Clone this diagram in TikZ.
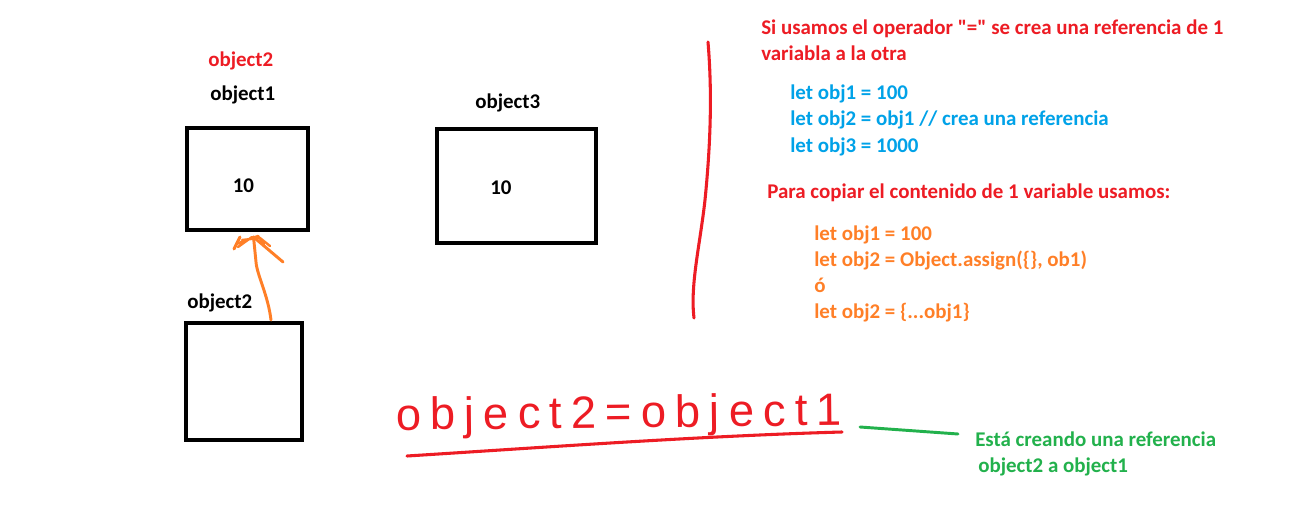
\documentclass[tikz,border=0pt]{standalone}
\usepackage{fontspec}
\setmainfont{Carlito}[Ligatures=TeXOff]
\newfontfamily\handfont[LetterSpace=20]{Liberation Sans}
\usetikzlibrary{calc}
\definecolor{pred}{RGB}{237,28,36}
\definecolor{pblue}{RGB}{0,162,232}
\definecolor{porange}{RGB}{255,127,39}
\definecolor{pgreen}{RGB}{34,177,76}
\tikzset{
  objbox/.style={draw=black, line width=3pt, minimum width=#1, inner sep=0pt},
  lbl/.style={font=\fontsize{15.7pt}{19.5pt}\selectfont\bfseries, inner sep=0pt, anchor=base west},
  redtxt/.style={lbl, text=pred},
  bluetxt/.style={lbl, text=pblue},
  orangetxt/.style={lbl, text=porange},
  greentxt/.style={lbl, text=pgreen},
  blacktxt/.style={lbl, text=black},
  redpen/.style={draw=pred, line width=2.3pt, line cap=round, line join=round},
  orangepen/.style={draw=porange, line width=2.2pt, line cap=round, line join=round},
  greenpen/.style={draw=pgreen, line width=2.2pt, line cap=round},
}
\begin{document}
\begin{tikzpicture}[x=0.75pt, y=-0.75pt]
\fill[white] (0,0) rectangle (1309,531);
\useasboundingbox (0,0) rectangle (1309,531);

% boxes
\node[objbox=121pt*0.75, minimum height=102*0.75pt] (box1) at (247.5,179) {};
\node[objbox=159pt*0.75, minimum height=114*0.75pt] (box3) at (516.5,186) {};
\node[objbox=116pt*0.75, minimum height=117*0.75pt] (box2) at (244,381.5) {};

% labels
\node[redtxt] (lblred) at (208,66.5) {object2};
\node[blacktxt] (lbl1) at (210,101) {object1};
\node[blacktxt] (lbl3) at (475,109) {object3};
\node[blacktxt] (lbl2) at (187,308) {object2};
\node[blacktxt] (v1) at (232.5,192) {10};
\node[blacktxt] (v3) at (490,194.5) {10};

% orange arrow from box2 to box1
\coordinate (astart) at ($(box2.north)+(27,-1)$);
\coordinate (atip) at ($(box1.south)+(6,5)$);
\draw[orangepen] (astart) .. controls (268,295) and (257,275) .. (256,262) -- (atip);
\draw[orangepen] (234,249) -- (240,237) (atip) -- (283,262);
\draw[orangepen, line width=1.8pt] (236,244) -- (258,236) -- (264,244) (242,240) -- (260,238) -- (270,246) (238,247) -- (252,237);

% red vertical stroke
\draw[redpen] (708,42) .. controls (712,90) and (711,140) .. (705,200)
  .. controls (700,245) and (690,285) .. (694,318);

% right text
\node[redtxt] (r1) at (761,35) {Si usamos el operador "=" se crea una referencia de 1};
\node[redtxt] (r2) at (761,61) {variabla a la otra};
\node[bluetxt] (b1) at (790,100) {let obj1 = 100};
\node[bluetxt] (b2) at (790,126) {let obj2 = obj1 // crea una referencia};
\node[bluetxt] (b3) at (790,152) {let obj3 = 1000};
\node[redtxt] (r3) at (767,199) {Para copiar el contenido de 1 variable usamos:};
\node[orangetxt] (o1) at (814,240) {let obj1 = 100};
\node[orangetxt] (o2) at (814,266) {let obj2 = Object.assign(\{\}, ob1)};
\node[orangetxt] (o3) at (814,292) {ó};
\node[orangetxt] (o4) at (814,318) {let obj2 = \{...obj1\}};

% handwritten expression
\node[font=\handfont\fontsize{34pt}{34pt}\selectfont, text=pred, inner sep=0pt, anchor=base west, rotate=0.6] (hand) at (396,430) {object2=object1};
\draw[redpen] (407,456) .. controls (550,447) and (700,436) .. (842,432);

% green note
\node[greentxt] (g1) at (975,446) {Está creando una referencia};
\node[greentxt] (g2) at (978,472) {object2 a object1};
\coordinate (gs) at (860,427);
\coordinate (ge) at (958,434);
\draw[greenpen] (gs) -- (ge);
\end{tikzpicture}
\end{document}
